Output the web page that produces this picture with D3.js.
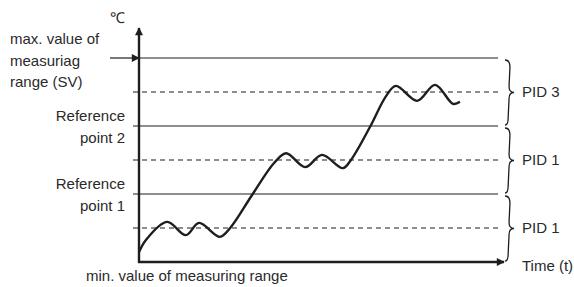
<!DOCTYPE html>
<html>
<head>
<meta charset="utf-8">
<script src="https://cdn.jsdelivr.net/npm/d3@7"></script>
<style>
  body { margin: 0; background: #fff; }
  svg text { font-family: "Liberation Sans", Arial, sans-serif; font-size: 15px; fill: #2a2a2a; }
</style>
</head>
<body>
<svg id="chart"></svg>
<script>
// temperature levels (in level units, 0 = min of measuring range)
var setpoints = [1, 3, 5];          // dashed set-value lines
var boundaries = [2, 4, 6];         // solid reference / max lines
var bandLabels = ["PID 1", "PID 1", "PID 3"];
var bandLow = [0, 2, 4];
var bandHigh = [2, 4, 6];

// measured curve
var curveTime = [0, 1.9, 7.7, 12.8, 16.4, 22.1, 24.9, 30.9, 36.9, 40.2, 45.4, 50, 55.7, 57.9, 63.1, 67.5, 70.2, 76, 80.9, 85.8, 87.7];
var curveTemp = [0.29, 0.65, 1.18, 0.79, 1.15, 0.74, 1.0, 1.97, 2.91, 3.2, 2.79, 3.15, 2.76, 3.0, 3.97, 4.88, 5.18, 4.74, 5.21, 4.65, 4.71];

document.addEventListener("DOMContentLoaded", function() {
	var width = 574, height = 287;
	var svg = d3.select("#chart").attr("width", width).attr("height", height);

	var x = d3.scaleLinear().domain([0, 100]).range([139, 505]);
	var y = d3.scaleLinear().domain([0, 6]).range([262, 58]);
	var ink = "#1e1e1e";

	var defs = svg.append("defs");
	defs.append("marker").attr("id", "arr")
		.attr("viewBox", "0 0 10 10").attr("refX", 9).attr("refY", 5)
		.attr("markerWidth", 11).attr("markerHeight", 8)
		.attr("markerUnits", "userSpaceOnUse")
		.attr("orient", "auto")
		.append("path").attr("d", "M0,0 L10,5 L0,10 Z").attr("fill", ink);

	// level lines
	var xs = x.range()[0] - 6, xe = 498;
	svg.append("g").selectAll("line").data(boundaries).enter().append("line")
		.attr("x1", xs).attr("x2", xe)
		.attr("y1", function(d) { return y(d); }).attr("y2", function(d) { return y(d); })
		.attr("stroke", ink).attr("stroke-width", 1.2);
	svg.append("g").selectAll("line").data(setpoints).enter().append("line")
		.attr("x1", xs).attr("x2", xe)
		.attr("y1", function(d) { return y(d); }).attr("y2", function(d) { return y(d); })
		.attr("stroke", ink).attr("stroke-width", 1.2).attr("stroke-dasharray", "5,4");

	// axes
	svg.append("line").attr("x1", x(0)).attr("y1", y(0) + 1).attr("x2", x(0)).attr("y2", 28)
		.attr("stroke", ink).attr("stroke-width", 2.4).attr("marker-end", "url(#arr)");
	svg.append("line").attr("x1", x(0) - 1).attr("y1", y(0)).attr("x2", 504).attr("y2", y(0))
		.attr("stroke", ink).attr("stroke-width", 2.4).attr("marker-end", "url(#arr)");
	// SV arrow
	svg.append("line").attr("x1", 110).attr("y1", y(6)).attr("x2", x(0)).attr("y2", y(6))
		.attr("stroke", ink).attr("stroke-width", 1.2).attr("marker-end", "url(#arr)");

	// curve
	var pts = curveTime.map(function(t, i) { return [x(t), y(curveTemp[i])]; });
	svg.append("path").attr("d", d3.line().curve(d3.curveCatmullRom.alpha(0.5))(pts))
		.attr("fill", "none").attr("stroke", ink).attr("stroke-width", 2.4);

	// braces
	function brace(y0, y1) {
		var x0 = 505, w = 9, m = (y0 + y1) / 2;
		return "M" + x0 + "," + y0 +
			" Q" + (x0 + w * 0.55) + "," + y0 + " " + (x0 + w * 0.55) + "," + (y0 + 7) +
			" L" + (x0 + w * 0.45) + "," + (m - 6) +
			" Q" + (x0 + w * 0.45) + "," + m + " " + (x0 + w) + "," + m +
			" Q" + (x0 + w * 0.45) + "," + m + " " + (x0 + w * 0.45) + "," + (m + 6) +
			" L" + (x0 + w * 0.35) + "," + (y1 - 7) +
			" Q" + (x0 + w * 0.35) + "," + y1 + " " + x0 + "," + y1;
	}
	svg.append("g").selectAll("path").data(bandLabels).enter().append("path")
		.attr("d", function(d, i) { return brace(y(bandHigh[i]) + 2, y(bandLow[i]) - 1); })
		.attr("fill", "none").attr("stroke", ink).attr("stroke-width", 1.3);
	svg.append("g").selectAll("text").data(bandLabels).enter().append("text")
		.attr("x", 522).attr("y", function(d, i) { return y((bandLow[i] + bandHigh[i]) / 2) + 5; })
		.text(function(d) { return d; });

	// labels
	svg.append("text").attr("x", 522).attr("y", 271).text("Time (t)");
	svg.append("text").attr("x", 110).attr("y", 23).style("font-size", "15px").text("\u2103");
	svg.append("text").attr("x", 86).attr("y", 281).text("min. value of measuring range");

	var sv = ["max. value of", "measuriag", "range (SV)"];
	svg.append("g").selectAll("text").data(sv).enter().append("text")
		.attr("x", 10).attr("y", function(d, i) { return y(6) - 14 + i * 21.5; })
		.text(function(d) { return d; });

	var refs = [{ v: 4, l: ["Reference", "point 2"] }, { v: 2, l: ["Reference", "point 1"] }];
	refs.forEach(function(r) {
		r.l.forEach(function(s, i) {
			svg.append("text").attr("x", 125).attr("y", y(r.v) - 5 + i * 22)
				.attr("text-anchor", "end").text(s);
		});
	});
});
</script>
</body>
</html>
